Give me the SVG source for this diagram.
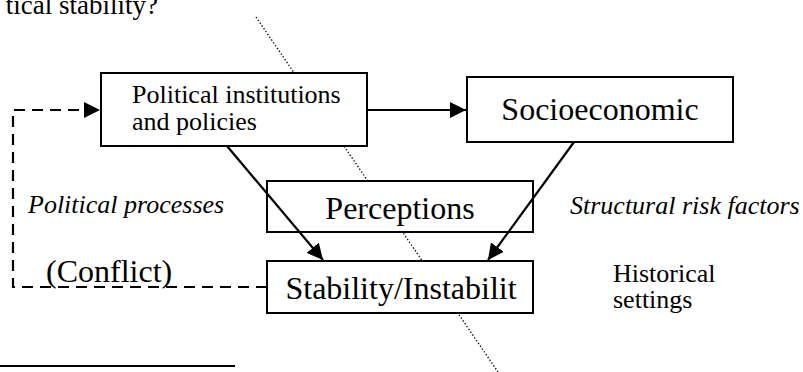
<svg xmlns="http://www.w3.org/2000/svg" width="803" height="372" viewBox="0 0 803 372">
<style>
  text { font-family: "Liberation Serif", "Times New Roman", serif; fill: #000; }
  .big { font-size: 32px; }
  .mid { font-size: 26px; }
  .it { font-size: 26px; font-style: italic; }
  .box { fill: #fff; stroke: #000; stroke-width: 2; }
  .conn { fill: none; stroke: #000; stroke-width: 2.2; }
  .dash { fill: none; stroke: #000; stroke-width: 2.2; stroke-dasharray: 11 7; }
</style>
<defs>
  <marker id="arr" markerUnits="userSpaceOnUse" markerWidth="16" markerHeight="16" refX="16" refY="8" orient="auto">
    <path d="M0,0 L16,8 L0,16 Z" fill="#000"/>
  </marker>
</defs>
<text class="mid" x="158" y="14" text-anchor="end" style="font-size:27px">tical stability?</text>
<line id="divider" x1="256" y1="17" x2="498" y2="372" stroke="#000" stroke-width="1.3" stroke-dasharray="1.4 2"/>
<line x1="0" y1="366" x2="235" y2="366" stroke="#000" stroke-width="2"/>
<g id="political">
  <rect class="box" x="101" y="73" width="266" height="73"/>
  <text class="mid" x="132" y="103">Political institutions</text>
  <text class="mid" x="132" y="130">and policies</text>
</g>
<g id="socioeconomic">
  <rect class="box" x="467" y="77" width="266" height="65"/>
  <text class="big" x="600" y="120" text-anchor="middle">Socioeconomic</text>
</g>
<g id="perceptions">
  <rect class="box" x="267" y="181" width="266" height="51"/>
  <text class="big" x="400" y="219" text-anchor="middle">Perceptions</text>
</g>
<g id="stability">
  <rect class="box" x="267" y="261" width="266" height="52"/>
  <text class="big" x="401" y="299" text-anchor="middle">Stability/Instabilit</text>
</g>
<g id="connectors">
  <line class="conn" x1="367" y1="110" x2="466" y2="110" marker-end="url(#arr)"/>
  <line class="conn" x1="227" y1="146" x2="323" y2="260" marker-end="url(#arr)"/>
  <line class="conn" x1="574" y1="142" x2="488" y2="260" marker-end="url(#arr)"/>
  <path class="dash" d="M267,287 H13 V110 H100" marker-end="url(#arr)"/>
</g>
<g id="labels">
  <text class="it" x="28" y="213">Political processes</text>
  <text class="it" x="570" y="214">Structural risk factors</text>
  <text class="big" x="46" y="282">(Conflict)</text>
  <text class="mid" x="613" y="282">Historical</text>
  <text class="mid" x="613" y="308">settings</text>
</g>
</svg>
